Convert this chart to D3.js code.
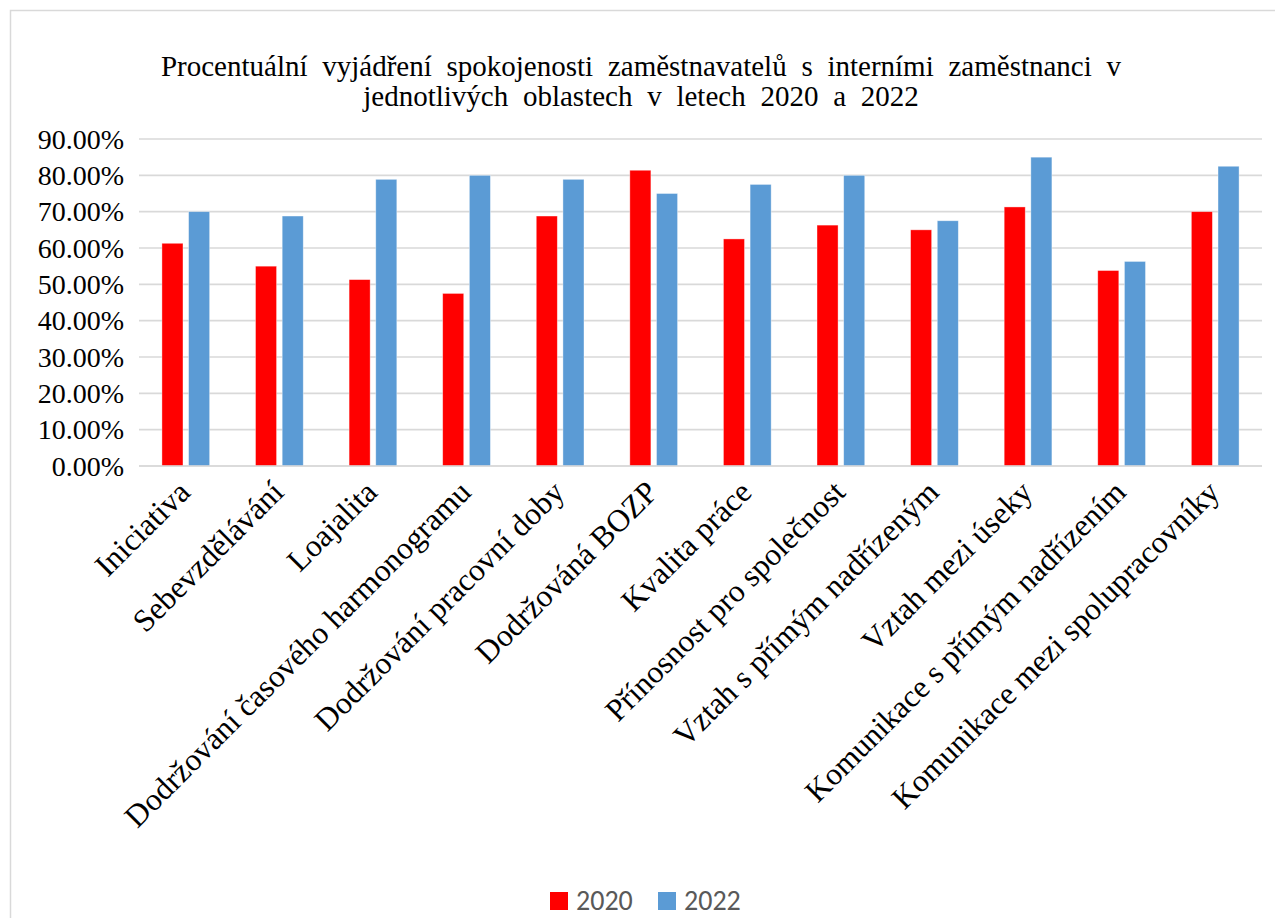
<!DOCTYPE html>
<html>
<head>
<meta charset="utf-8">
<script src="https://cdn.jsdelivr.net/npm/d3@7"></script>
<style>
  html, body { margin: 0; padding: 0; background: #fff; }
  svg { display: block; }
</style>
</head>
<body>
<svg id="chart" width="1275" height="918"></svg>
<script>
const categories = [
  "Iniciativa",
  "Sebevzdělávání",
  "Loajalita",
  "Dodržování časového harmonogramu",
  "Dodržování pracovní doby",
  "Dodržováná BOZP",
  "Kvalita práce",
  "Přínosnost pro společnost",
  "Vztah s přímým nadřízeným",
  "Vztah mezi úseky",
  "Komunikace s přímým nadřízením",
  "Komunikace mezi spolupracovníky"
];
const values2020 = [0.613, 0.550, 0.513, 0.475, 0.688, 0.814, 0.625, 0.663, 0.650, 0.713, 0.538, 0.700];
const values2022 = [0.700, 0.688, 0.789, 0.800, 0.789, 0.750, 0.775, 0.800, 0.675, 0.850, 0.563, 0.825];
const seriesNames = ["2020", "2022"];
const seriesColors = ["#FF0000", "#5B9BD5"];
const yTicks = [0, 0.1, 0.2, 0.3, 0.4, 0.5, 0.6, 0.7, 0.8, 0.9];
const titleLines = [
  "Procentuální vyjádření spokojenosti zaměstnavatelů s interními zaměstnanci v",
  "jednotlivých oblastech v letech 2020 a 2022"
];

const svg = d3.select("#chart");
const serif = "'Liberation Serif', 'Times New Roman', serif";

// chart border
svg.append("rect")
  .attr("x", 10.5).attr("y", 10.5)
  .attr("width", 1300).attr("height", 1000)
  .attr("fill", "none").attr("stroke", "#d9d9d9").attr("stroke-width", 1.5);

const plot = { left: 139, right: 1262, top: 139, bottom: 466 };

const x = d3.scaleBand().domain(categories).range([plot.left, plot.right]).padding(0);
const y = d3.scaleLinear().domain([0, 0.9]).range([plot.bottom, plot.top]);

// gridlines
svg.append("g")
  .selectAll("line")
  .data(yTicks)
  .join("line")
  .attr("x1", plot.left).attr("x2", plot.right)
  .attr("y1", d => y(d)).attr("y2", d => y(d))
  .attr("stroke", "#d9d9d9").attr("stroke-width", 1.6);

// y axis labels
const yAxis = d3.axisLeft(y).tickValues(yTicks).tickSize(0).tickPadding(0)
  .tickFormat(d => d3.format(".2f")(d * 100) + "%");
const yg = svg.append("g").attr("transform", `translate(${plot.left - 15},0)`).call(yAxis);
yg.attr("font-family", serif);
yg.select(".domain").remove();
yg.selectAll("text")
  .attr("font-family", serif).attr("font-size", 28).attr("fill", "#000")
  .attr("dy", "0.33em");

// bars
const bw = x.bandwidth() * 0.225;
const gap = x.bandwidth() * 0.06;
const series = [values2020, values2022];
series.forEach((vals, si) => {
  svg.append("g")
    .selectAll("rect")
    .data(categories.map((c, i) => ({ c, v: vals[i] })))
    .join("rect")
    .attr("x", d => x(d.c) + x.bandwidth() / 2 + (si === 0 ? -gap / 2 - bw : gap / 2))
    .attr("y", d => y(d.v))
    .attr("width", bw)
    .attr("height", d => y(0) - y(d.v))
    .attr("fill", seriesColors[si])
    .attr("stroke", "#ffffff").attr("stroke-opacity", 0.5).attr("stroke-width", 0.75);
});

// x axis line
svg.append("line")
  .attr("x1", plot.left).attr("x2", plot.right)
  .attr("y1", plot.bottom).attr("y2", plot.bottom)
  .attr("stroke", "#d9d9d9").attr("stroke-width", 1.6);

// x labels
const xAxis = d3.axisBottom(x).tickSize(0).tickPadding(0);
const xg = svg.append("g").attr("transform", `translate(0,${plot.bottom})`).call(xAxis);
xg.attr("font-family", serif);
xg.select(".domain").remove();
xg.selectAll("text")
  .attr("font-family", serif).attr("font-size", 31.5).attr("fill", "#000")
  .attr("text-anchor", "end")
  .attr("dy", 0)
  .attr("y", 0)
  .attr("transform", "translate(6,28) rotate(-45)");

// title
svg.append("g").selectAll("text")
  .data(titleLines)
  .join("text")
  .attr("x", 641)
  .attr("y", (d, i) => 76 + i * 30)
  .attr("text-anchor", "middle")
  .attr("font-family", serif).attr("font-size", 29).attr("fill", "#000")
  .style("word-spacing", "7.5px")
  .text(d => d);

// legend
const legend = svg.append("g");
const legendX = [550, 658];
seriesNames.forEach((n, i) => {
  legend.append("rect")
    .attr("x", legendX[i]).attr("y", 892)
    .attr("width", 18).attr("height", 18)
    .attr("fill", seriesColors[i]);
  legend.append("text")
    .attr("x", legendX[i] + 26).attr("y", 909.5)
    .attr("font-family", "Carlito, Calibri, 'Liberation Sans', Arial, sans-serif")
    .attr("font-size", 28).attr("fill", "#595959")
    .text(n);
});
</script>
</body>
</html>
